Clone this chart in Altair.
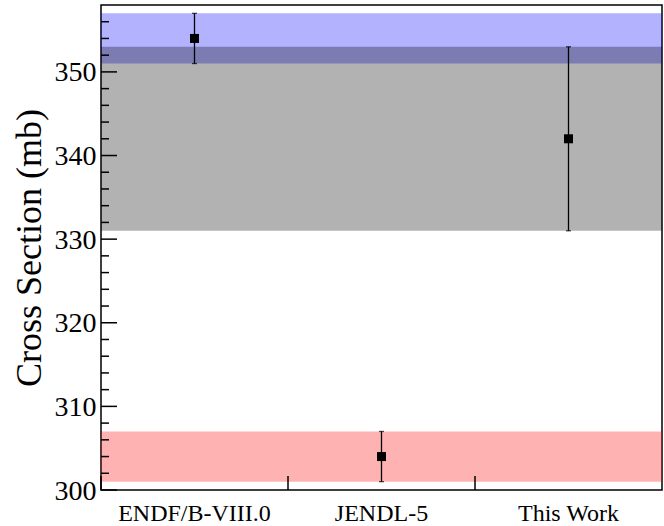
import altair as alt
import pandas as pd

# Evaluated cross sections and their uncertainties
libraries = ["ENDF/B-VIII.0", "JENDL-5", "This Work"]
cross_section = [354, 304, 342]
uncertainty = [3, 3, 11]
band_colors = ["#0000ff", "#ff0000", "#000000"]

# Inner tick positions on the y axis
major_ticks = [300, 310, 320, 330, 340, 350]
minor_ticks = [302, 304, 306, 308, 312, 314, 316, 318, 322, 324, 326, 328,
               332, 334, 336, 338, 342, 344, 346, 348, 352, 354, 356]

W, H = 561, 485
FONT = "Times New Roman, Liberation Serif, Times, serif"

df = pd.DataFrame({
    "library": libraries,
    "value": cross_section,
    "err": uncertainty,
})
df["lo"] = df["value"] - df["err"]
df["hi"] = df["value"] + df["err"]

x_scale = alt.Scale(domain=libraries, paddingInner=0, paddingOuter=0)
y_scale = alt.Scale(domain=[300, 358], nice=False, zero=False)

x_axis = alt.Axis(
    title=None, labelAngle=0, ticks=False, tickSize=0, domain=False,
    labelFont=FONT, labelFontSize=24, labelColor="black", labelPadding=11,
)
y_axis = alt.Axis(
    title="Cross Section (mb)", values=major_ticks, ticks=False, tickSize=0,
    domain=False, grid=False, labelFont=FONT, labelFontSize=28,
    labelColor="black", labelPadding=5, labelOffset=1,
    titleFont=FONT, titleFontSize=36, titleFontWeight="normal",
    titleColor="black", titleAngle=-90, titleX=-61, titleY=H / 2,
    titleAlign="center", titleBaseline="alphabetic",
)


def X(field, **kw):
    return alt.X(field, type="nominal", scale=x_scale, axis=x_axis, sort=libraries, **kw)


def Y(field):
    return alt.Y(field, type="quantitative", scale=y_scale, axis=y_axis)


base = alt.Chart(df)

# Uncertainty bands spanning the full width
bands = base.mark_rect(opacity=0.3).encode(
    x=alt.value(0),
    x2=alt.value(W),
    y=Y("lo"),
    y2="hi:Q",
    color=alt.Color("library:N", scale=alt.Scale(domain=libraries, range=band_colors), legend=None),
)

major = alt.Chart(pd.DataFrame({"tick": major_ticks})).mark_rule(
    color="black", strokeWidth=1.5
).encode(y=Y("tick"), x=alt.value(0), x2=alt.value(16))

minor = alt.Chart(pd.DataFrame({"tick": minor_ticks})).mark_rule(
    color="black", strokeWidth=1.5
).encode(y=Y("tick"), x=alt.value(0), x2=alt.value(8))

xticks = base.mark_rule(color="black", strokeWidth=1.5).encode(
    x=X("library", bandPosition=0),
    y=alt.value(H),
    y2=alt.value(H - 14),
)

bars = base.mark_rule(color="black", strokeWidth=1.3).encode(
    x=X("library"), y=Y("lo"), y2="hi:Q"
)
cap_lo = base.mark_tick(color="black", size=5, thickness=1.3).encode(
    x=X("library"), y=Y("lo")
)
cap_hi = base.mark_tick(color="black", size=5, thickness=1.3).encode(
    x=X("library"), y=Y("hi")
)
points = base.mark_point(shape="square", filled=True, size=81, color="black", opacity=1).encode(
    x=X("library"), y=Y("value")
)

chart = alt.layer(bands, major, minor, xticks, bars, cap_lo, cap_hi, points).properties(
    width=W,
    height=H,
    autosize=alt.AutoSizeParams(type="none"),
    padding={"left": 101, "top": 5, "right": 2, "bottom": 36},
    background="white",
).configure_view(
    stroke="black", strokeWidth=1.5
)

chart.save("out.html", embed_options={"renderer": "svg", "actions": False})
